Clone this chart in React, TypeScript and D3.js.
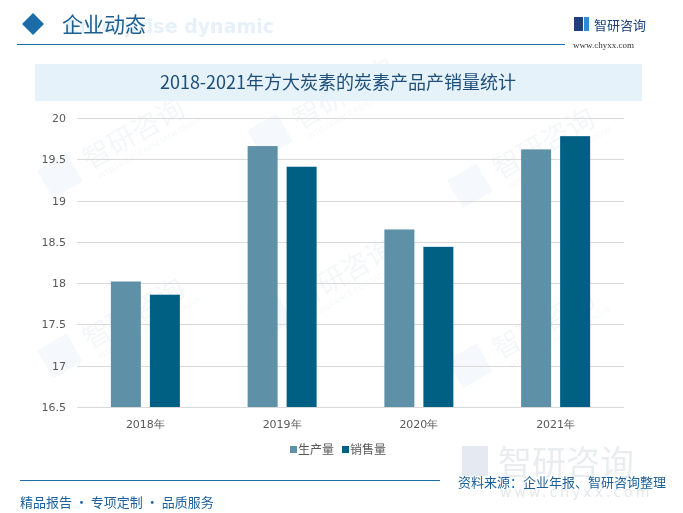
import React, { useEffect, useRef } from 'react';
import * as d3 from 'd3';

// chart data
const categories = ['2018年', '2019年', '2020年', '2021年'];
const seriesNames = ['生产量', '销售量'];
const production = [18.02, 19.66, 18.65, 19.62];
const sales = [17.86, 19.41, 18.44, 19.78];
const yTicks = [16.5, 17, 17.5, 18, 18.5, 19, 19.5, 20];
const colors = ['#5e90a8', '#006083'];

const App = () => {
  const ref = useRef<SVGSVGElement>(null);

  useEffect(() => {
    const width = 683;
    const height = 513;
    const svg = d3.select(ref.current);
    svg.selectAll('*').remove();
    svg.attr('width', width).attr('height', height);

    svg.append('rect').attr('width', width).attr('height', height).attr('fill', '#fff');

    // faint watermarks
    const wm = svg.append('g').attr('opacity', 0.05);
    const wmPos = [[90, 170], [300, 130], [500, 180], [90, 350], [300, 310], [500, 360]];
    wmPos.forEach(([x, y]) => {
      const g = wm.append('g').attr('transform', `translate(${x},${y}) rotate(-30)`);
      g.append('text').attr('x', 0).attr('y', 0).attr('font-size', 28)
        .attr('font-family', 'Noto Sans CJK SC').attr('fill', '#1f4e79').text('智研咨询');
      g.append('text').attr('x', 4).attr('y', 13).attr('font-size', 7)
        .attr('font-family', 'DejaVu Sans').attr('fill', '#1f4e79').text('INTELLIGENCE RESEARCH GROUP');
      g.append('rect').attr('x', -46).attr('y', -26).attr('width', 34).attr('height', 32).attr('fill', '#2e75b6');
    });

    // header
    svg.append('path').attr('d', 'M33,13 L44,24 L33,35 L22,24 Z').attr('fill', '#1b6ca8');
    svg.append('text').attr('x', 66).attr('y', 33).attr('font-size', 19).attr('font-weight', 'bold')
      .attr('font-family', 'DejaVu Sans').attr('fill', '#e6f1f9').text('Enterprise dynamic');
    svg.append('text').attr('x', 62).attr('y', 32).attr('font-size', 21)
      .attr('font-family', 'Noto Sans CJK SC').attr('fill', '#1c5f8f').text('企业动态');
    svg.append('line').attr('x1', 17).attr('x2', 565).attr('y1', 44.5).attr('y2', 44.5)
      .attr('stroke', '#1b6ca8').attr('stroke-width', 1.2);
    const logo = svg.append('g');
    logo.append('rect').attr('x', 574).attr('y', 17).attr('width', 9).attr('height', 14).attr('fill', '#1f3f7a');
    logo.append('rect').attr('x', 584).attr('y', 17).attr('width', 5).attr('height', 14).attr('fill', '#2f8bd6');
    logo.append('text').attr('x', 594).attr('y', 30).attr('font-size', 13)
      .attr('font-family', 'Noto Sans CJK SC').attr('fill', '#1f3f7a').text('智研咨询');
    logo.append('text').attr('x', 573).attr('y', 48).attr('font-size', 9)
      .attr('font-family', 'Liberation Serif').attr('fill', '#333').text('www.chyxx.com');

    // title box
    svg.append('rect').attr('x', 35).attr('y', 64).attr('width', 607).attr('height', 37).attr('fill', '#e6f2fa');
    svg.append('text').attr('x', 338).attr('y', 89).attr('text-anchor', 'middle').attr('font-size', 18)
      .attr('font-family', 'Noto Sans CJK SC').attr('fill', '#1d4e79')
      .text('2018-2021年方大炭素的炭素产品产销量统计');

    // scales
    const x = d3.scaleBand().domain(categories).range([77, 624]).padding(0);
    const bw = x.bandwidth();
    const xSub = d3.scaleBand().domain(seriesNames).range([bw / 2 - 34.5, bw / 2 + 34.5]).paddingInner(9 / 39);
    const y = d3.scaleLinear().domain([16.5, 20]).range([407, 118]);

    // grid
    svg.append('g').selectAll('line').data(yTicks).enter().append('line')
      .attr('x1', 77).attr('x2', 624)
      .attr('y1', d => Math.round(y(d)) + 0.5).attr('y2', d => Math.round(y(d)) + 0.5)
      .attr('stroke', '#d9d9d9').attr('stroke-width', 1);

    // y labels
    svg.append('g').selectAll('text').data(yTicks).enter().append('text')
      .attr('x', 66).attr('y', d => y(d) + 4).attr('text-anchor', 'end')
      .attr('font-size', 11).attr('font-family', 'DejaVu Sans').attr('fill', '#595959')
      .text(d => String(d));

    // bars
    const seriesData = [production, sales];
    seriesData.forEach((vals, si) => {
      svg.append('g').selectAll('rect').data(vals).enter().append('rect')
        .attr('x', (d, i) => (x(categories[i]) as number) + (xSub(seriesNames[si]) as number))
        .attr('width', xSub.bandwidth())
        .attr('y', d => y(d))
        .attr('height', d => y(16.5) - y(d))
        .attr('fill', colors[si]);
    });

    // x labels
    svg.append('g').selectAll('text').data(categories).enter().append('text')
      .attr('x', d => (x(d) as number) + bw / 2).attr('y', 428).attr('text-anchor', 'middle')
      .attr('font-size', 11).attr('font-family', 'DejaVu Sans').attr('fill', '#595959')
      .text(d => d);

    // legend
    const legendX = [290, 342];
    seriesNames.forEach((name, i) => {
      svg.append('rect').attr('x', legendX[i]).attr('y', 446).attr('width', 7).attr('height', 7).attr('fill', colors[i]);
      svg.append('text').attr('x', legendX[i] + 8).attr('y', 454).attr('font-size', 12)
        .attr('font-family', 'Noto Sans CJK SC').attr('fill', '#595959').text(name);
    });

    // bottom watermark
    svg.append('rect').attr('x', 462).attr('y', 446).attr('width', 26).attr('height', 30).attr('fill', '#d3dcea').attr('opacity', 0.6);
    svg.append('text').attr('x', 498).attr('y', 475).attr('font-size', 34)
      .attr('font-family', 'Noto Sans CJK SC').attr('fill', '#dde1e6').attr('opacity', 0.6).text('智研咨询');
    svg.append('text').attr('x', 500).attr('y', 497).attr('font-size', 14).attr('letter-spacing', 3)
      .attr('font-family', 'DejaVu Sans').attr('fill', '#e6e8eb').text('www.chyxx.com');

    // footer
    svg.append('line').attr('x1', 20).attr('x2', 440).attr('y1', 480.5).attr('y2', 480.5)
      .attr('stroke', '#1b6ca8').attr('stroke-width', 1.2);
    svg.append('text').attr('x', 20).attr('y', 507).attr('font-size', 13)
      .attr('font-family', 'Noto Sans CJK SC').attr('fill', '#1c5f9c').text('精品报告 · 专项定制 · 品质服务');
    svg.append('text').attr('x', 666).attr('y', 487).attr('text-anchor', 'end').attr('font-size', 13)
      .attr('font-family', 'Noto Sans CJK SC').attr('fill', '#1c5f9c').text('资料来源：企业年报、智研咨询整理');

    return () => {
      svg.selectAll('*').remove();
    };
  }, []);

  return <svg ref={ref} style={{ position: 'absolute', left: 0, top: 0 }}></svg>;
};

export default App;
